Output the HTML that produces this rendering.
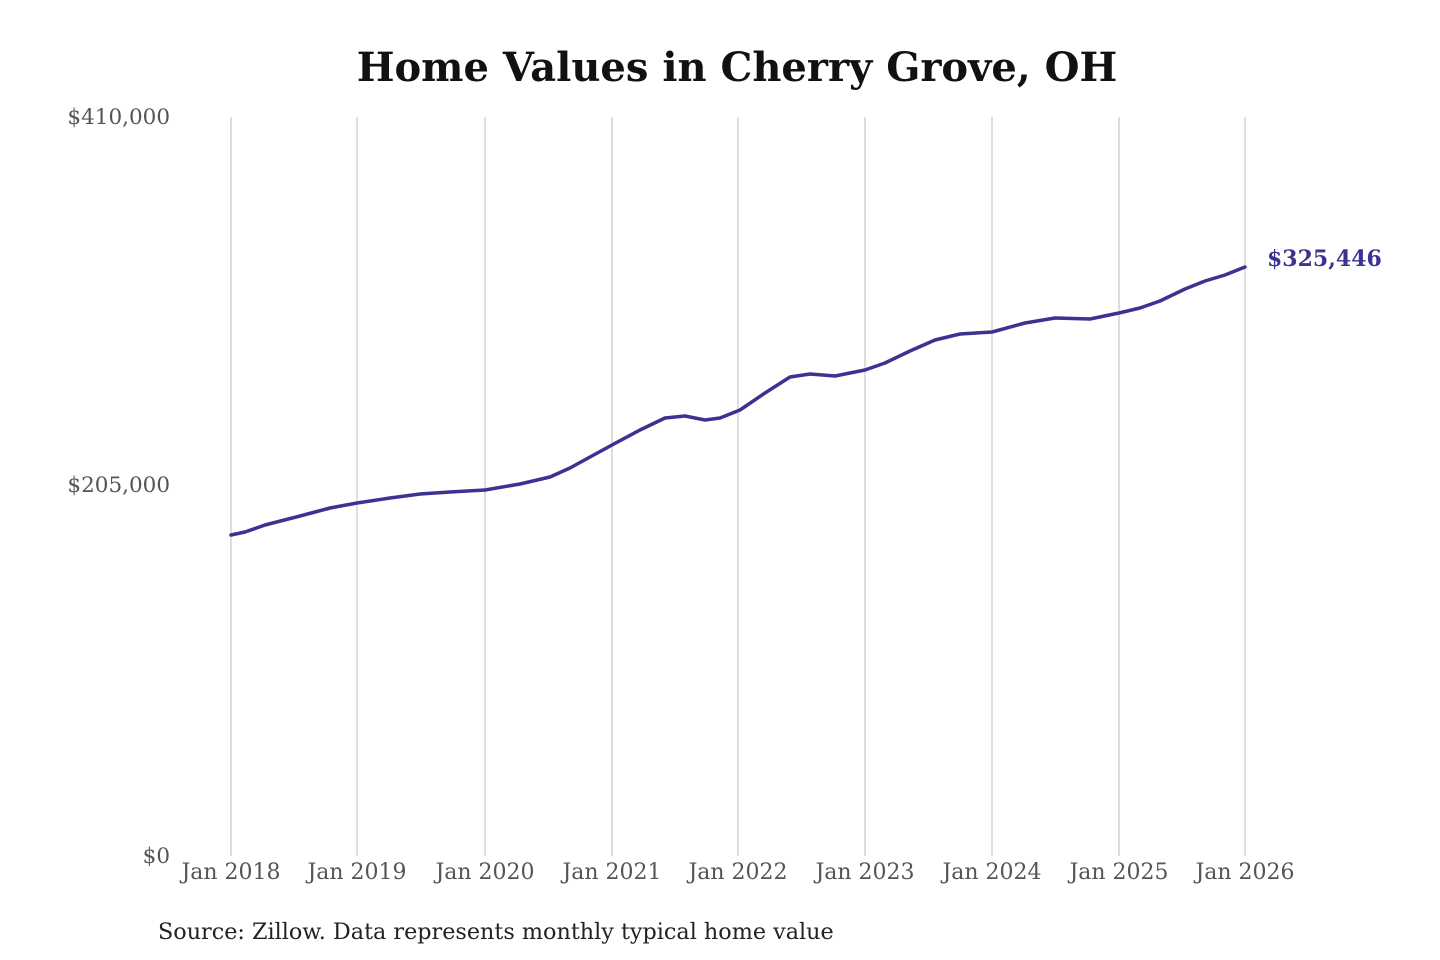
<!DOCTYPE html>
<html><head><meta charset="utf-8"><style>
html,body{margin:0;padding:0;background:#fff;}
svg{display:block;}
</style></head><body>
<svg width="1440" height="960" xmlns="http://www.w3.org/2000/svg" font-family="DejaVu Serif, Liberation Serif, serif">
<text x="737" y="81" text-anchor="middle" font-size="40" font-weight="bold" fill="#111">Home Values in Cherry Grove, OH</text>
<g stroke="#c8c8c8" stroke-width="1.2">
<line x1="231" y1="117" x2="231" y2="856"/>
<line x1="357" y1="117" x2="357" y2="856"/>
<line x1="485" y1="117" x2="485" y2="856"/>
<line x1="612" y1="117" x2="612" y2="856"/>
<line x1="738" y1="117" x2="738" y2="856"/>
<line x1="865" y1="117" x2="865" y2="856"/>
<line x1="992" y1="117" x2="992" y2="856"/>
<line x1="1119" y1="117" x2="1119" y2="856"/>
<line x1="1245" y1="117" x2="1245" y2="856"/>
</g>
<g font-size="21.5" fill="#555" text-anchor="end">
<text x="170" y="124">$410,000</text>
<text x="170" y="492">$205,000</text>
<text x="170" y="863">$0</text>
</g>
<g font-size="22" fill="#555" text-anchor="middle">
<text x="231" y="879">Jan 2018</text>
<text x="357" y="879">Jan 2019</text>
<text x="485" y="879">Jan 2020</text>
<text x="612" y="879">Jan 2021</text>
<text x="738" y="879">Jan 2022</text>
<text x="865" y="879">Jan 2023</text>
<text x="992" y="879">Jan 2024</text>
<text x="1119" y="879">Jan 2025</text>
<text x="1245" y="879">Jan 2026</text>
</g>
<polyline fill="none" stroke="#3a3391" stroke-width="3.5" stroke-linejoin="round" stroke-linecap="round" points="231,535 245,532 265,525 300,516 330,508 357,503 390,498 420,494 450,492 485,490 520,484 550,477 570,468 590,457 612,445 640,430 665,418 685,416 705,420 720,418 740,410 765,393 790,377 810,374 835,376 865,370 885,363 910,351 935,340 960,334 992,332 1025,323 1055,318 1090,319 1119,313 1140,308 1160,301 1185,289 1205,281 1225,275 1245,267"/>
<text x="1267" y="266" font-size="22" font-weight="bold" fill="#3a3391">$325,446</text>
<text x="158" y="939" font-size="22.3" fill="#222">Source: Zillow. Data represents monthly typical home value</text>
</svg>
</body></html>
